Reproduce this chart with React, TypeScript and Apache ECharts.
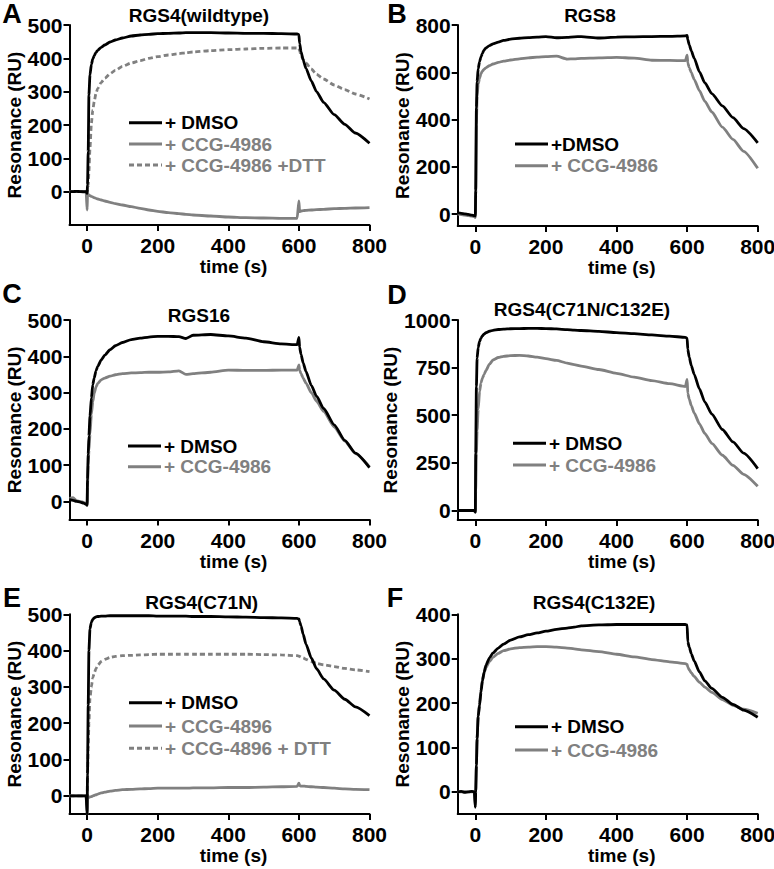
import React, { useEffect, useRef } from "react";
import * as echarts from "echarts";

// ---- shared sampling times (s) ----
const time = [-50, -40, -30, -20, -10, -3, 0, 1, 3, 5, 8, 12, 16, 20, 25, 30, 40, 50, 65, 80, 100, 125, 150, 175, 200, 230, 260, 280, 300, 350, 400, 450, 500, 550, 595, 600, 602, 606, 612, 620, 635, 650, 670, 700, 730, 760, 800];

// ---- A: RGS4(wildtype) ----
const aDmso = [0, 0, 1, 0, 0, 0, -5, 20, 120, 290, 350, 382, 398, 408, 418, 424, 433, 440, 449, 455, 461, 467, 470, 472, 474, 475, 476, 477, 477, 477, 476, 475, 475, 474, 473, 471, 445, 420, 395, 370, 332, 300, 268, 231, 202, 176, 145];
const aCcg = [0, 0, 1, 0, -1, 0, -55, -5, -8, -10, -12, -14, -16, -18, -20, -22, -25, -28, -32, -36, -40, -45, -50, -55, -59, -63, -66, -68, -70, -73, -76, -78, -79, -80, -80, -28, -60, -58, -57, -56, -55, -54, -53, -51, -50, -49, -48];
const aCcgDtt = [0, 0, 0, 1, 0, 0, -3, 0, 20, 60, 130, 205, 245, 270, 295, 310, 328, 340, 354, 364, 376, 386, 393, 400, 405, 410, 414, 417, 419, 423, 426, 428, 430, 431, 431, 430, 422, 410, 397, 386, 368, 352, 338, 320, 306, 293, 278];

// ---- B: RGS8 ----
const bDmso = [5, 3, 1, -1, -4, -6, -8, 100, 450, 560, 615, 645, 665, 680, 695, 703, 713, 720, 728, 735, 740, 744, 747, 749, 751, 746, 748, 750, 751, 745, 749, 750, 751, 752, 754, 756, 738, 716, 690, 660, 602, 556, 510, 458, 408, 362, 302];
const bCcg = [0, -2, -4, -6, -8, -10, -14, 80, 380, 500, 550, 575, 595, 605, 613, 619, 628, 635, 642, 647, 652, 657, 661, 664, 666, 668, 656, 657, 659, 661, 663, 660, 651, 650, 649, 672, 640, 620, 598, 570, 522, 478, 432, 368, 316, 266, 194];

// ---- C: RGS16 ----
const cDmso = [5, 3, 0, -2, -5, -8, -10, 60, 130, 180, 235, 285, 322, 340, 360, 372, 390, 403, 418, 429, 438, 446, 450, 453, 455, 455, 454, 449, 458, 460, 456, 450, 440, 434, 432, 452, 425, 405, 382, 358, 320, 290, 256, 211, 168, 133, 93];
const cCcg = [8, 10, 2, 0, -3, -6, -12, 40, 100, 140, 185, 240, 275, 298, 315, 325, 335, 340, 345, 349, 352, 354, 355, 356, 356, 357, 360, 350, 352, 356, 362, 361, 361, 362, 362, 376, 362, 352, 340, 326, 300, 276, 248, 205, 166, 132, 95];

// ---- D: RGS4(C71N/C132E) ----
const dDmso = [0, 0, 0, 0, 0, 0, -8, 300, 650, 800, 855, 887, 905, 917, 927, 933, 941, 946, 950, 952, 954, 955, 956, 956, 955, 953, 949, 947, 945, 940, 934, 928, 922, 915, 909, 905, 845, 805, 760, 715, 638, 570, 506, 425, 360, 301, 220];
const dCcg = [0, 0, 0, 0, 0, 0, -10, 100, 300, 420, 530, 625, 670, 695, 715, 735, 768, 790, 803, 809, 813, 814, 811, 805, 797, 788, 774, 766, 758, 740, 720, 700, 682, 666, 651, 688, 615, 585, 550, 512, 455, 405, 352, 290, 237, 190, 127];

// ---- E: RGS4(C71N) ----
const eDmso = [0, 0, 0, 0, 0, 0, -50, 60, 250, 400, 460, 478, 486, 490, 493, 494, 495, 495, 496, 496, 496, 496, 496, 496, 495, 495, 495, 495, 494, 494, 493, 492, 491, 490, 489, 487, 480, 468, 445, 418, 380, 350, 322, 291, 266, 245, 221];
const eCcg = [0, 0, 0, 0, 0, 0, -50, 0, -3, -4, -3, -2, 0, 1, 3, 5, 8, 10, 13, 15, 17, 18, 19, 20, 21, 21, 21, 21, 22, 22, 23, 23, 24, 25, 26, 35, 28, 27, 27, 26, 25, 24, 23, 21, 19, 18, 17];
const eCcgDtt = [0, 0, 0, 0, 0, 0, -3, 50, 130, 200, 268, 300, 325, 338, 350, 360, 370, 376, 381, 384, 386, 387, 388, 389, 390, 390, 390, 390, 390, 390, 390, 390, 389, 388, 386, 385, 384, 382, 380, 376, 370, 365, 361, 356, 351, 347, 342];

// ---- F: RGS4(C132E) ----
const fDmso = [0, 1, -1, 0, 1, 0, -35, 0, 60, 120, 170, 195, 225, 250, 270, 285, 302, 313, 324, 333, 342, 349, 354, 358, 362, 366, 369, 371, 374, 376, 377, 377, 377, 377, 377, 376, 338, 326, 311, 295, 270, 250, 233, 213, 197, 184, 168];
const fCcg = [0, 0, 0, 0, 0, 0, -30, 0, 60, 120, 170, 200, 230, 252, 268, 280, 294, 303, 312, 318, 322, 325, 326, 327, 327, 326, 324, 322, 320, 316, 310, 304, 298, 293, 289, 287, 281, 275, 268, 260, 247, 236, 224, 208, 195, 186, 177];

// ---- tick labels ----
const xTicks = [0, 200, 400, 600, 800];
const yTicksA = [0, 100, 200, 300, 400, 500];
const yTicksB = [0, 200, 400, 600, 800];
const yTicksC = [0, 100, 200, 300, 400, 500];
const yTicksD = [0, 250, 500, 750, 1000];
const yTicksE = [0, 100, 200, 300, 400, 500];
const yTicksF = [0, 100, 200, 300, 400];

// ---- texts ----
const panelLetters = ["A", "B", "C", "D", "E", "F"];
const panelTitles = ["RGS4(wildtype)", "RGS8", "RGS16", "RGS4(C71N/C132E)", "RGS4(C71N)", "RGS4(C132E)"];
const xName = "time (s)";
const yName = "Resonance (RU)";

const FONT = "'Liberation Sans', Arial, Helvetica, sans-serif";
const BLACK = "#000000";
const GREY = "#808080";

type S = { name: string; data: number[]; color: string; dashed?: boolean };
type P = {
  grid: { left: number; top: number; width: number; height: number };
  yMin: number;
  yMax: number;
  yTicks: number[];
  series: S[];
  legendOrder: string[];
  legendLeft: number;
  legendRows: number[];
  xNameGap: number;
  letterPos: [number, number];
  titlePos: [number, number];
};

const panels: P[] = [
  {
    grid: { left: 69.5, top: 25, width: 300, height: 200 },
    yMin: -100, yMax: 500, yTicks: yTicksA,
    series: [
      { name: "+ CCG-4986 +DTT", data: aCcgDtt, color: GREY, dashed: true },
      { name: "+ CCG-4986", data: aCcg, color: GREY },
      { name: "+ DMSO", data: aDmso, color: BLACK },
    ],
    legendOrder: ["+ DMSO", "+ CCG-4986", "+ CCG-4986 +DTT"],
    legendLeft: 129, legendRows: [122.7, 144, 165],
    xNameGap: 32, letterPos: [12, 13.5], titlePos: [199, 15],
  },
  {
    grid: { left: 457.7, top: 25, width: 300, height: 201 },
    yMin: -50, yMax: 800, yTicks: yTicksB,
    series: [
      { name: "+ CCG-4986", data: bCcg, color: GREY },
      { name: "+DMSO", data: bDmso, color: BLACK },
    ],
    legendOrder: ["+DMSO", "+ CCG-4986"],
    legendLeft: 515, legendRows: [144, 165.7],
    xNameGap: 31, letterPos: [397, 13.5], titlePos: [590, 15],
  },
  {
    grid: { left: 69.5, top: 320, width: 300, height: 199.5 },
    yMin: -50, yMax: 500, yTicks: yTicksC,
    series: [
      { name: "+ DMSO", data: cDmso, color: BLACK },
      { name: "+ CCG-4986", data: cCcg, color: GREY },
    ],
    legendOrder: ["+ DMSO", "+ CCG-4986"],
    legendLeft: 128, legendRows: [446, 466.7],
    xNameGap: 32, letterPos: [12, 294], titlePos: [199, 315],
  },
  {
    grid: { left: 457.7, top: 320, width: 300, height: 200 },
    yMin: -50, yMax: 1000, yTicks: yTicksD,
    series: [
      { name: "+ CCG-4986", data: dCcg, color: GREY },
      { name: "+ DMSO", data: dDmso, color: BLACK },
    ],
    legendOrder: ["+ DMSO", "+ CCG-4986"],
    legendLeft: 513, legendRows: [443.3, 465],
    xNameGap: 32, letterPos: [397, 294.5], titlePos: [582, 309],
  },
  {
    grid: { left: 69.5, top: 614.3, width: 300, height: 199.7 },
    yMin: -50, yMax: 500, yTicks: yTicksE,
    series: [
      { name: "+ CCG-4896 + DTT", data: eCcgDtt, color: GREY, dashed: true },
      { name: "+ CCG-4896", data: eCcg, color: GREY },
      { name: "+ DMSO", data: eDmso, color: BLACK },
    ],
    legendOrder: ["+ DMSO", "+ CCG-4896", "+ CCG-4896 + DTT"],
    legendLeft: 129, legendRows: [702.7, 726, 748.3],
    xNameGap: 30, letterPos: [12, 597.5], titlePos: [201.7, 602.5],
  },
  {
    grid: { left: 457.7, top: 614.3, width: 300, height: 199.7 },
    yMin: -50, yMax: 400, yTicks: yTicksF,
    series: [
      { name: "+ CCG-4986", data: fCcg, color: GREY },
      { name: "+ DMSO", data: fDmso, color: BLACK },
    ],
    legendOrder: ["+ DMSO", "+ CCG-4986"],
    legendLeft: 515, legendRows: [726.7, 750],
    xNameGap: 30, letterPos: [395, 597.5], titlePos: [594, 602.5],
  },
];

const pair = (vals: number[]) => time.map((t, i) => [t, vals[i]]);

function buildOption() {
  const grid: any[] = [];
  const xAxis: any[] = [];
  const yAxis: any[] = [];
  const series: any[] = [];
  const graphic: any[] = [];

  panels.forEach((p, i) => {
    grid.push({ ...p.grid, containLabel: false, outerBoundsMode: "none" });
    const axisLine = { show: true, onZero: false, lineStyle: { color: BLACK, width: 2 } };
    const tick = (vals: number[]) => ({ show: true, length: 6, inside: false, lineStyle: { color: BLACK, width: 2 }, customValues: vals });
    const labelStyle = { color: BLACK, fontSize: 21, fontWeight: "bold", fontFamily: FONT, formatter: (v: number) => String(v) };
    xAxis.push({
      gridIndex: i, type: "value", min: -50, max: 800,
      axisLine, axisTick: tick(xTicks),
      axisLabel: { ...labelStyle, margin: 10, customValues: xTicks },
      splitLine: { show: false },
      name: xName, nameLocation: "middle", nameGap: p.xNameGap,
      nameTextStyle: { color: BLACK, fontSize: 19, fontWeight: "bold", fontFamily: FONT, padding: [0, 0, 0, 28] },
    });
    yAxis.push({
      gridIndex: i, type: "value", min: p.yMin, max: p.yMax,
      axisLine, axisTick: tick(p.yTicks),
      axisLabel: { ...labelStyle, margin: 7, customValues: p.yTicks },
      splitLine: { show: false },
      name: yName, nameLocation: "middle", nameGap: 40,
      nameTextStyle: { color: BLACK, fontSize: 19, fontWeight: "bold", fontFamily: FONT },
    });
    p.series.forEach((s) => {
      series.push({
        type: "line", name: s.name, xAxisIndex: i, yAxisIndex: i,
        data: pair(s.data), symbol: "none", showSymbol: false, silent: true,
        smooth: 0.2, smoothMonotone: "x",
        lineStyle: { color: s.color, width: 2.8, type: s.dashed ? [5, 3] : "solid" },
        itemStyle: { color: s.color },
        z: s.color === BLACK ? 3 : 2,
      });
    });
    // legend drawn as line swatches + texts, in the reference's order
    p.legendOrder.forEach((name, r) => {
      const s = p.series.find((q) => q.name === name)!;
      const cy = p.legendRows[r];
      graphic.push({
        type: "line", silent: true,
        shape: { x1: p.legendLeft, y1: cy, x2: p.legendLeft + 33, y2: cy },
        style: { stroke: s.color, lineWidth: 3, lineDash: s.dashed ? [5, 3] : null },
      });
      graphic.push({
        type: "text", silent: true, x: p.legendLeft + 36, y: cy,
        style: { text: name, fill: s.color, fontSize: 19, fontWeight: "bold", fontFamily: FONT, align: "left", verticalAlign: "middle" },
      });
    });
    graphic.push({
      type: "text", x: p.letterPos[0], y: p.letterPos[1], silent: true,
      style: { text: panelLetters[i], fill: BLACK, fontSize: 27, fontWeight: "bold", fontFamily: FONT, align: "center", verticalAlign: "middle" },
    });
    graphic.push({
      type: "text", x: p.titlePos[0], y: p.titlePos[1], silent: true,
      style: { text: panelTitles[i], fill: BLACK, fontSize: 19, fontWeight: "bold", fontFamily: FONT, align: "center", verticalAlign: "middle" },
    });
  });

  return {
    animation: false,
    backgroundColor: "#ffffff",
    grid, xAxis, yAxis, series, graphic,
  };
}

export default function App() {
  const ref = useRef<HTMLDivElement>(null);
  useEffect(() => {
    if (!ref.current) return;
    const chart = echarts.init(ref.current, null, { renderer: "svg" });
    chart.setOption(buildOption() as any);
    return () => chart.dispose();
  }, []);
  return (
    <div
      ref={ref}
      style={{ position: "fixed", left: 0, top: 0, width: 774, height: 869, background: "#ffffff" }}
    />
  );
}
